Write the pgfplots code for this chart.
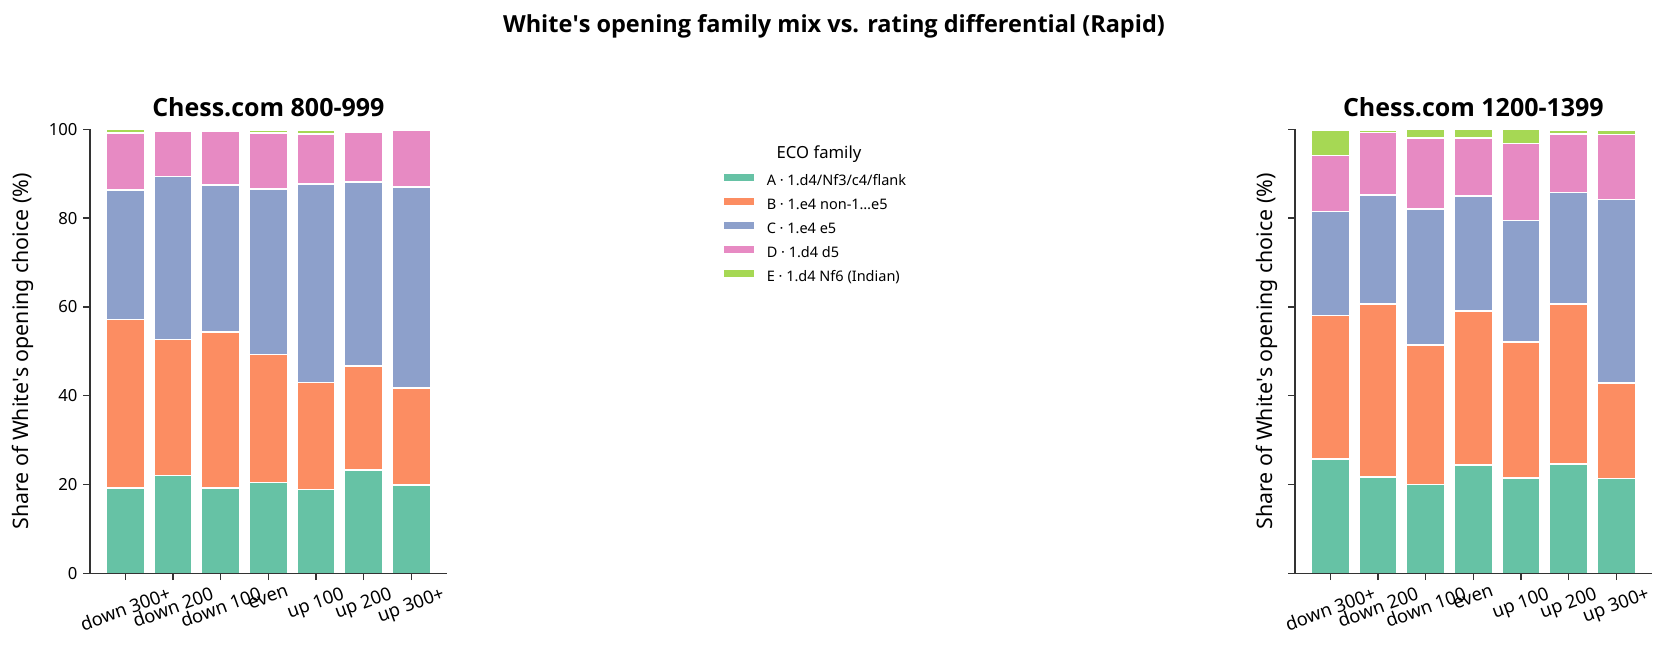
\documentclass[border=0pt]{standalone}
\usepackage{fontspec}
\setmainfont{Noto Sans}
\newfontfamily\titlefont{Open Sans}
\usepackage{graphicx}
\usepackage{pgfplots}
\pgfplotsset{compat=1.18}
\usepackage{pgfplotstable}

\definecolor{famA}{HTML}{66C2A5}
\definecolor{famB}{HTML}{FC8D62}
\definecolor{famC}{HTML}{8DA0CB}
\definecolor{famD}{HTML}{E78AC3}
\definecolor{famE}{HTML}{A6D854}
\definecolor{spine}{HTML}{333333}

% shares (%) per rating-differential bucket, 0 = down 300+ ... 6 = up 300+
\pgfplotstableread{
x  A     B     C     D     E
0  19.2  38.0  29.1  12.9  0.8
1  22.1  30.6  36.7  10.1  0.0
2  19.2  35.2  33.0  12.1  0.0
3  20.5  28.8  37.2  12.6  0.8
4  18.9  24.1  44.7  11.2  1.0
5  23.3  23.4  41.4  11.3  0.5
6  19.9  21.9  45.2  12.9  0.0
}\lowtab

\pgfplotstableread{
x  A     B     C     D     E
0  25.8  32.3  23.4  12.6  5.8
1  21.8  38.8  24.6  14.1  0.6
2  20.0  31.4  30.6  16.0  2.0
3  24.4  34.7  25.9  13.0  2.0
4  21.5  30.6  27.4  17.3  3.2
5  24.6  36.0  25.2  13.2  0.9
6  21.4  21.5  41.3  14.6  1.1
}\midtab

\pgfplotsset{
  mixaxis/.style={
    scale only axis, width=214pt, height=266.5pt,
    anchor=south west, axis on top,
    xmin=-0.74, xmax=6.74, ymin=0, ymax=100,
    ybar stacked, bar width=0.8,
    axis x line*=bottom, axis y line*=left,
    axis line style={line width=0.8pt, spine},
    tick style={line width=0.8pt, spine},
    major tick length=4pt, tick align=outside,
    xtick={0,...,6},
    xticklabels={\rotatebox{20}{down 300+},\rotatebox{20}{down 200},\rotatebox{20}{down 100},
      \rotatebox{20}{even},\rotatebox{20}{up 100},\rotatebox{20}{up 200},\rotatebox{20}{up 300+}},
    xticklabel style={anchor=north, font=\fontsize{11}{13}\selectfont},
    ytick={0,20,...,100},
    yticklabel style={font=\fontsize{10}{12}\selectfont},
    /pgf/number format/assume math mode=true,
    ylabel={Share of White\textquotesingle s opening choice (\%)},
    ylabel style={font=\fontsize{12.8}{14}\selectfont, inner sep=0pt, anchor=south},
    title style={font=\titlefont\bfseries\fontsize{15}{17}\selectfont, at={(axis description cs:0.5,1)}, anchor=base, yshift=1.6pt},
    every axis plot/.append style={draw=white, line width=1pt},
  },
}

\begin{document}
\begin{tikzpicture}
\path[use as bounding box] (0,0) rectangle (1000.8pt,393pt);

\node[font=\titlefont\bfseries\fontsize{14.1}{16}\selectfont] at (500.4pt,377.3pt)
  {White\textquotesingle s opening family mix vs. rating differential (Rapid)};

\begin{axis}[mixaxis, at={(54pt,48.9pt)},
  title={Chess.com 800-999},
  ylabel style={at={(axis description cs:-0.158,0.5)}},
  legend style={at={(axis description cs:1.776,0.776)}, anchor=west,
    draw=none, fill=none, inner sep=0pt,
    font=\fontsize{8.7}{10}\selectfont, cells={anchor=west},
    nodes={inner sep=0pt, text height=5.8pt, text depth=1.6pt},
    row sep=6.0pt, column sep=7.8pt},
  legend image code/.code={\path[#1, draw=none] (0pt,0.1pt) rectangle (18pt,4.7pt);},
]
\addplot[fill=famA] table[x=x, y=A] {\lowtab};
\addlegendentry{A · 1.d4/Nf3/c4/flank}
\addplot[fill=famB] table[x=x, y=B] {\lowtab};
\addlegendentry{B · 1.e4 non-1…e5}
\addplot[fill=famC] table[x=x, y=C] {\lowtab};
\addlegendentry{C · 1.e4 e5}
\addplot[fill=famD] table[x=x, y=D] {\lowtab};
\addlegendentry{D · 1.d4 d5}
\addplot[fill=famE] table[x=x, y=E] {\lowtab};
\addlegendentry{E · 1.d4 Nf6 (Indian)}
\end{axis}

\node[font=\fontsize{10}{12}\selectfont] at (491.4pt,300.3pt) {ECO family};

\begin{axis}[mixaxis, at={(777pt,48.9pt)},
  title={Chess.com 1200-1399},
  yticklabels={},
  ylabel style={at={(axis description cs:-0.048,0.5)}},
]
\addplot[fill=famA] table[x=x, y=A] {\midtab};
\addplot[fill=famB] table[x=x, y=B] {\midtab};
\addplot[fill=famC] table[x=x, y=C] {\midtab};
\addplot[fill=famD] table[x=x, y=D] {\midtab};
\addplot[fill=famE] table[x=x, y=E] {\midtab};
\end{axis}
\end{tikzpicture}
\end{document}
